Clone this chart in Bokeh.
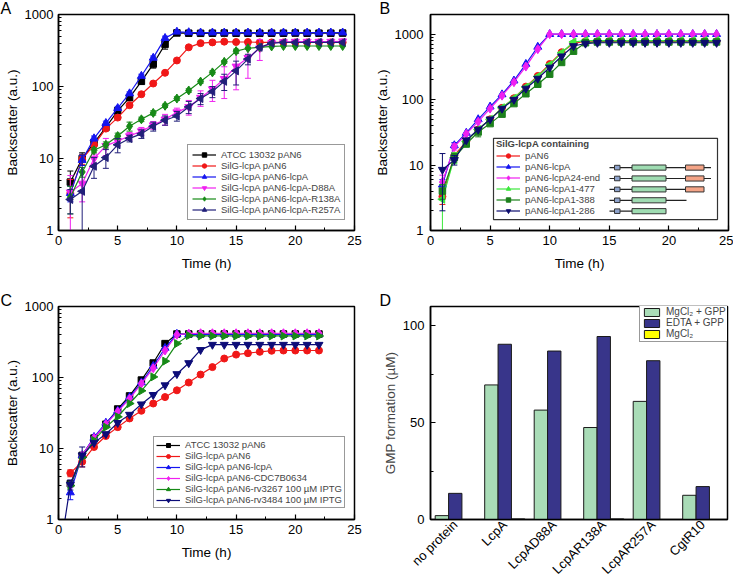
import math
from bokeh.plotting import figure
from bokeh.models import (ColumnDataSource, Legend, LegendItem, Title, SingleIntervalTicker,
                          LogTicker, FixedTicker, Range1d, FactorRange, BasicTickFormatter)
from bokeh.transform import dodge
from bokeh.layouts import row, column
from bokeh.embed import file_html
from bokeh.resources import INLINE

FONT = "Liberation Sans"

# ---------------- Panel A data ----------------
a_time = [1, 2, 3, 4, 5, 6, 7, 8, 9, 10, 11, 12, 13, 14, 15, 16, 17, 18, 19, 20, 21, 22, 23, 24]
a_labels = ["ATCC 13032 pAN6", "SilG-lcpA pAN6", "SilG-lcpA pAN6-lcpA",
            "SilG-lcpA pAN6-lcpA-D88A", "SilG-lcpA pAN6-lcpA-R138A", "SilG-lcpA pAN6-lcpA-R257A"]
a_atcc = [4.7, 10, 16.5, 27, 46, 70, 118, 205, 385, 555, 550, 548, 550, 552, 550, 550, 548, 550, 550, 552, 550, 550, 550, 552]
a_pan6 = [3.3, 9.8, 15.5, 26, 37, 55, 78, 110, 155, 230, 350, 400, 410, 420, 415, 415, 410, 410, 410, 410, 410, 410, 410, 410]
a_lcpa = [3.3, 9.5, 19, 31, 50, 80, 140, 250, 470, 575, 565, 560, 560, 560, 560, 560, 560, 560, 560, 560, 560, 560, 560, 560]
a_d88a = [3.4, 4.5, 10, 15, 17.5, 20.5, 24, 29, 35, 44, 52, 70, 92, 128, 190, 250, 340, 400, 415, 420, 420, 420, 420, 425]
a_r138a = [2.9, 6.5, 13, 15.5, 20.5, 28, 35, 43, 54, 68, 88, 117, 157, 220, 310, 340, 350, 360, 365, 365, 365, 365, 365, 365]
a_r257a = [2.7, 3.5, 7.8, 10.3, 15.5, 19, 22, 28, 34, 39, 52, 68, 85, 118, 165, 240, 350, 400, 410, 410, 410, 410, 410, 410]
a_atcc_err = [2.0, 2.0, 1.5, 2, 3, 5, 10, 25, 55, 0, 0, 0, 0, 0, 0, 0, 0, 0, 0, 0, 0, 0, 0, 0]
a_pan6_err = [1.8, 1.5, 1, 1, 1, 3, 3, 5, 5, 5, 10, 10, 10, 10, 0, 0, 0, 0, 0, 0, 0, 0, 0, 0]
a_lcpa_err = [0.8, 1.5, 1.5, 2, 3, 4, 8, 15, 30, 20, 0, 0, 0, 0, 0, 0, 0, 0, 0, 0, 0, 0, 0, 0]
a_d88a_err = [2.4, 2.0, 1.5, 4.0, 2.5, 2.5, 3.0, 3.5, 6.0, 6.0, 12, 17, 30, 60, 100, 120, 110, 30, 0, 0, 0, 0, 0, 0]
a_r138a_err = [1.2, 1.0, 1.0, 1.5, 2.0, 4.0, 2.5, 3, 3, 4, 5, 6, 8, 10, 20, 10, 0, 0, 0, 0, 0, 0, 0, 0]
a_r257a_err = [1.0, 8.0, 2.5, 3.0, 3.5, 2.0, 3.0, 4.0, 5.0, 6.0, 10.0, 12.0, 15.0, 30.0, 60.0, 40.0, 20.0, 0, 0, 0, 0, 0, 0, 0]

# ---------------- Panel B data ----------------
b_time = [1, 2, 3, 4, 5, 6, 7, 8, 9, 10, 11, 12, 13, 14, 15, 16, 17, 18, 19, 20, 21, 22, 23, 24]
b_title = "SilG-lcpA containing"
b_labels = ["pAN6", "pAN6-lcpA", "pAN6-lcpA24-end", "pAN6-lcpA1-477", "pAN6-lcpA1-388", "pAN6-lcpA1-286"]
b_pan6 = [3.3, 14, 23, 35, 50, 75, 105, 158, 230, 350, 530, 720, 780, 780, 785, 780, 780, 780, 785, 780, 780, 780, 785, 780]
b_lcpa = [5.0, 20, 31, 50, 78, 120, 195, 350, 640, 1000, 1000, 1000, 1000, 1000, 1000, 1000, 1000, 1000, 1000, 1000, 1000, 1000, 1000, 1000]
b_24end = [5.5, 19, 30, 46, 73, 115, 185, 320, 590, 1000, 1000, 1000, 1000, 1000, 1000, 1000, 1000, 1000, 1000, 1000, 1000, 1000, 1000, 1000]
b_1_477 = [3.0, 13, 23, 35, 50, 75, 105, 155, 225, 340, 520, 760, 800, 800, 800, 800, 800, 800, 800, 800, 800, 800, 800, 800]
b_1_388 = [4.0, 13, 21, 32, 43, 60, 87, 123, 172, 245, 370, 550, 740, 760, 760, 760, 760, 760, 760, 760, 760, 760, 760, 760]
b_1_286 = [8.5, 12, 24, 35, 50, 73, 100, 148, 210, 310, 460, 660, 720, 740, 740, 740, 740, 740, 740, 740, 740, 740, 740, 740]
b_pan6_err = [0.8, 1.5, 0, 0, 0, 0, 0, 0, 0, 0, 0, 0, 0, 0, 0, 0, 0, 0, 0, 0, 0, 0, 0, 0]
b_lcpa_err = [1.0, 2.0, 0, 0, 0, 0, 0, 0, 0, 0, 0, 0, 0, 0, 0, 0, 0, 0, 0, 0, 0, 0, 0, 0]
b_24end_err = [1.5, 2.0, 0, 0, 0, 0, 0, 0, 0, 0, 0, 0, 0, 0, 0, 0, 0, 0, 0, 0, 0, 0, 0, 0]
b_1_477_err = [2.0, 2.5, 0, 0, 0, 0, 0, 0, 0, 0, 0, 0, 0, 0, 0, 0, 0, 0, 0, 0, 0, 0, 0, 0]
b_1_388_err = [1.0, 2.0, 2.0, 5.0, 0, 0, 0, 0, 0, 0, 0, 0, 0, 0, 0, 0, 0, 0, 0, 0, 0, 0, 0, 0]
b_1_286_err = [6.5, 2.0, 0, 0, 0, 0, 0, 0, 0, 0, 0, 0, 0, 0, 0, 0, 0, 0, 0, 0, 0, 0, 0, 0]

# ---------------- Panel C data ----------------
c_time = [1, 2, 3, 4, 5, 6, 7, 8, 9, 10, 11, 12, 13, 14, 15, 16, 17, 18, 19, 20, 21, 22]
c_time_rv3484 = [0, 1, 2, 3, 4, 5, 6, 7, 8, 9, 10, 11, 12, 13, 14, 15, 16, 17, 18, 19, 20, 21, 22]
c_labels = ["ATCC 13032 pAN6", "SilG-lcpA pAN6", "SilG-lcpA pAN6-lcpA", "SilG-lcpA pAN6-CDC7B0634",
            "SilG-lcpA pAN6-rv3267 100 µM IPTG", "SilG-lcpA pAN6-rv3484 100 µM IPTG"]
c_atcc = [3.2, 8, 14, 22, 36, 55, 92, 160, 300, 410, 410, 410, 410, 410, 410, 410, 410, 410, 410, 410, 410, 410]
c_pan6 = [4.5, 6.5, 10.5, 15, 20, 26.5, 34, 43, 53, 66, 85, 110, 140, 185, 210, 220, 230, 238, 240, 240, 240, 240]
c_lcpa = [2.4, 8, 14.5, 23, 34, 53, 85, 145, 260, 410, 405, 405, 405, 405, 405, 405, 405, 405, 405, 405, 405, 405]
c_cdc = [3.0, 8, 14, 22, 33, 50, 82, 135, 240, 400, 415, 420, 420, 420, 420, 420, 420, 420, 420, 420, 420, 420]
c_rv3267 = [3.0, 7.5, 13, 20, 28, 43, 65, 102, 170, 300, 390, 385, 385, 385, 385, 385, 385, 385, 385, 385, 385, 385]
c_rv3484 = [0.25, 3.1, 8, 12, 16, 23, 30, 42, 57, 78, 112, 160, 245, 290, 290, 290, 290, 290, 290, 290, 290, 290, 290]
c_lcpa_err = [0.5, 0, 0, 0, 0, 0, 0, 0, 0, 0, 0, 0, 0, 0, 0, 0, 0, 0, 0, 0, 0, 0]
c_pan6_err = [0.5, 1.0, 0, 0, 0, 0, 0, 0, 0, 0, 0, 0, 0, 0, 0, 0, 0, 0, 0, 0, 0, 0]
c_rv3484_err = [0, 0.5, 2.5, 0, 0, 0, 0, 0, 0, 0, 0, 0, 0, 0, 0, 0, 0, 0, 0, 0, 0, 0, 0]

# ---------------- Panel D data ----------------
d_categories = ["no protein", "LcpA", "LcpAD88A", "LcpAR138A", "LcpAR257A", "CgtR10"]
d_series = ["MgCl₂ + GPP", "EDTA + GPP", "MgCl₂"]
d_mgcl_gpp = [2.0, 69.5, 56.5, 47.5, 61.0, 12.5]
d_edta_gpp = [13.5, 90.5, 87.0, 94.5, 82.0, 17.0]
d_mgcl = [0.0, 0.3, 0.0, 0.3, 0.0, 0.0]


def add_letter(p, text, frame_left):
    p.add_layout(Title(text=text, align="left", offset=-frame_left, standoff=-5,
                       text_font=FONT, text_font_size="16px", text_font_style="normal",
                       text_color="black"), "above")


def growth_fig(width, height, borders, y_end, y_standoff):
    left, right, top, bottom = borders
    p = figure(width=width, height=height, x_range=Range1d(0, 25), y_range=Range1d(1, y_end),
               y_axis_type="log", output_backend="svg", toolbar_location=None,
               min_border_left=left, min_border_right=right,
               min_border_top=top, min_border_bottom=bottom)
    p.xgrid.visible = False
    p.ygrid.visible = False
    p.outline_line_color = "black"
    p.outline_line_width = 1.5
    p.outline_line_alpha = 1
    p.xaxis.ticker = SingleIntervalTicker(interval=5, num_minor_ticks=2)
    p.yaxis.ticker = LogTicker(num_minor_ticks=10)
    p.yaxis.formatter = BasicTickFormatter(use_scientific=False)
    for ax in (p.xaxis[0], p.yaxis[0]):
        ax.axis_line_width = 1.5
        ax.major_tick_in = 5
        ax.major_tick_out = 0
        ax.minor_tick_in = 3
        ax.minor_tick_out = 0
        ax.major_tick_line_width = 1.2
        ax.minor_tick_line_width = 1
        ax.major_label_text_font = FONT
        ax.major_label_text_font_size = "13px"
        ax.major_label_text_color = "black"
        ax.axis_label_text_font = FONT
        ax.axis_label_text_font_size = "13.5px"
        ax.axis_label_text_font_style = "normal"
        ax.axis_label_text_color = "black"
    p.xaxis.axis_label = "Time (h)"
    p.yaxis.axis_label = "Backscatter (a.u.)"
    p.xaxis.major_label_standoff = 5
    p.xaxis.axis_label_standoff = 8
    p.yaxis.major_label_standoff = y_standoff
    p.yaxis.axis_label_standoff = 2
    return p


def add_series(p, x, y, err, color, marker, size, angle=0.0):
    src = ColumnDataSource(dict(x=x, y=y))
    if err:
        ex, lo, hi = [], [], []
        for xi, yi, ei in zip(x, y, err):
            if ei > 0:
                ex.append(xi)
                lo.append(max(yi - ei, 0.3))
                hi.append(yi + ei)
        if ex:
            esrc = ColumnDataSource(dict(x=ex, lo=lo, hi=hi))
            p.segment(x0="x", y0="lo", x1="x", y1="hi", source=esrc, line_color=color, line_width=1)
            p.scatter("x", "hi", source=esrc, marker="dash", size=6, line_color=color, line_width=1)
            p.scatter("x", "lo", source=esrc, marker="dash", size=6, line_color=color, line_width=1)
    ln = p.line("x", "y", source=src, line_color=color, line_width=1.2)
    sc = p.scatter("x", "y", source=src, marker=marker, size=size, fill_color=color,
                   line_color=color, angle=angle)
    return ln, sc


def style_legend(leg, font_size, row_h, padding, glyph_w=24, glyph_h=None):
    leg.label_text_font = FONT
    leg.label_text_font_size = font_size
    leg.label_height = row_h
    leg.glyph_height = glyph_h if glyph_h else row_h
    leg.glyph_width = glyph_w
    leg.spacing = 0
    leg.padding = padding
    leg.margin = 0
    leg.label_standoff = 5
    leg.border_line_color = "#333333"
    leg.border_line_width = 1.2
    leg.background_fill_color = "white"
    leg.background_fill_alpha = 1


# ---------------- Panel A ----------------
pA = growth_fig(366, 292, (58, 12, 0, 62), 1000, 5)
add_letter(pA, "A", 58)
a_specs = [
    (a_atcc, a_atcc_err, "#000000", "square", 6.5, 0.0),
    (a_pan6, a_pan6_err, "#f01818", "circle", 7, 0.0),
    (a_lcpa, a_lcpa_err, "#1515f0", "triangle", 8, 0.0),
    (a_d88a, a_d88a_err, "#f020f0", "inverted_triangle", 8, 0.0),
    (a_r138a, a_r138a_err, "#178a17", "diamond", 9, 0.0),
    (a_r257a, a_r257a_err, "#22207a", "triangle", 8, math.pi / 2),
]
a_items = []
for lab, (vals, err, col, mk, sz, ang) in zip(a_labels, a_specs):
    ln, sc = add_series(pA, a_time, vals, err, col, mk, sz, ang)
    a_items.append(LegendItem(label=lab, renderers=[ln, sc]))
legA = Legend(items=a_items, location=(129, 10))
style_legend(legA, "9.5px", 11, 4)
pA.add_layout(legA)

# ---------------- Panel B ----------------
B_FW, B_FH, B_YEND = 298, 218, 2000
pB = growth_fig(367, 292, (64, 5, 0, 61), B_YEND, 7)
add_letter(pB, "B", 51)


def bx(px):
    return 25.0 * px / B_FW


def by(py):
    return 10 ** (math.log10(B_YEND) * py / B_FH)


# legend box (frame pixels)
LB_LEFT, LB_BOTTOM, LB_RIGHT, LB_TOP = 63, 11, 287, 93
pB.quad(left=[bx(LB_LEFT)], right=[bx(LB_RIGHT)], bottom=[by(LB_BOTTOM)], top=[by(LB_TOP)],
        fill_color="white", line_color="#333333", line_width=1.2)

b_specs = [
    (b_pan6, b_pan6_err, "#f01818", "circle", 7, 0.0),
    (b_lcpa, b_lcpa_err, "#1515f0", "triangle", 8, 0.0),
    (b_24end, b_24end_err, "#f020f0", "diamond", 9, 0.0),
    (b_1_477, b_1_477_err, "#3ce83c", "triangle", 8, math.pi / 2),
    (b_1_388, b_1_388_err, "#1c801c", "square", 6.5, 0.0),
    (b_1_286, b_1_286_err, "#0c0c6e", "inverted_triangle", 8, 0.0),
]
b_items = []
for lab, (vals, err, col, mk, sz, ang) in zip(b_labels, b_specs):
    ln, sc = add_series(pB, b_time, vals, err, col, mk, sz, ang)
    b_items.append(LegendItem(label=lab, renderers=[ln, sc]))
legB = Legend(items=b_items, location=(LB_LEFT, LB_BOTTOM))
style_legend(legB, "9.5px", 11, 3)
legB.title = b_title
legB.title_text_font = FONT
legB.title_text_font_size = "9.5px"
legB.title_text_font_style = "bold"
legB.title_standoff = 1
legB.border_line_alpha = 0
legB.background_fill_alpha = 0
pB.add_layout(legB)

# domain diagrams next to legend rows (frame pixels)
ROW_H, ROW_PAD = 11, 3
DG_LINE_START, DG_SQ, DG_GREEN, DG_SALMON = 179, (184, 189.5), (201.5, 235.5), (255, 273.5)
diagram_rows = [  # (legend row index, line end, has C-terminal domain)
    (1, 280.5, True),
    (2, 280.5, True),
    (3, 273.5, True),
    (4, 256, False),
    (5, 235.5, False),
]
seg_x0, seg_x1, seg_y = [], [], []
boxes = {"sq": [], "green": [], "salmon": []}
for k, line_end, salmon in diagram_rows:
    yc = LB_BOTTOM + ROW_PAD + ROW_H / 2 + (5 - k) * ROW_H
    seg_x0.append(bx(DG_LINE_START))
    seg_x1.append(bx(line_end))
    seg_y.append(by(yc))
    boxes["sq"].append((bx(DG_SQ[0]), bx(DG_SQ[1]), by(yc - 2.3), by(yc + 2.3)))
    boxes["green"].append((bx(DG_GREEN[0]), bx(DG_GREEN[1]), by(yc - 2.6), by(yc + 2.6)))
    if salmon:
        boxes["salmon"].append((bx(DG_SALMON[0]), bx(DG_SALMON[1]), by(yc - 2.6), by(yc + 2.6)))
pB.segment(x0=seg_x0, y0=seg_y, x1=seg_x1, y1=seg_y, line_color="#222222", line_width=1.2)
for key, fill in (("sq", "#8ea3cc"), ("green", "#9fdcb2"), ("salmon", "#f4a487")):
    bb = boxes[key]
    pB.quad(left=[b[0] for b in bb], right=[b[1] for b in bb], bottom=[b[2] for b in bb],
            top=[b[3] for b in bb], fill_color=fill, line_color="#333333", line_width=1)

# ---------------- Panel C ----------------
pC = growth_fig(366, 293, (58, 12, 0, 63), 1000, 5)
add_letter(pC, "C", 58)
c_specs = [
    (c_time, c_atcc, None, "#000000", "square", 6.5, 0.0),
    (c_time, c_pan6, c_pan6_err, "#f01818", "circle", 7, 0.0),
    (c_time, c_lcpa, c_lcpa_err, "#1515f0", "triangle", 8, 0.0),
    (c_time, c_cdc, None, "#f020f0", "diamond", 9, 0.0),
    (c_time, c_rv3267, None, "#178a17", "triangle", 8, -math.pi / 2),
    (c_time_rv3484, c_rv3484, c_rv3484_err, "#0c0c78", "inverted_triangle", 8, 0.0),
]
c_items = []
for lab, (tx, vals, err, col, mk, sz, ang) in zip(c_labels, c_specs):
    ln, sc = add_series(pC, tx, vals, err, col, mk, sz, ang)
    c_items.append(LegendItem(label=lab, renderers=[ln, sc]))
legC = Legend(items=c_items, location=(95, 11))
style_legend(legC, "9.5px", 10, 2)
pC.add_layout(legC)

# ---------------- Panel D ----------------
pD = figure(width=367, height=293, x_range=FactorRange(*d_categories), y_range=Range1d(0, 110),
            output_backend="svg", toolbar_location=None,
            min_border_left=64, min_border_right=6, min_border_top=0, min_border_bottom=64)
add_letter(pD, "D", 51)
pD.xgrid.visible = False
pD.ygrid.visible = False
pD.outline_line_color = "black"
pD.outline_line_width = 1.5
d_src = ColumnDataSource(dict(cat=d_categories, mgcl_gpp=d_mgcl_gpp, edta_gpp=d_edta_gpp, mgcl=d_mgcl))
BW = 0.27
d_colors = ["#a9dcb7", "#38358a", "#ffff00"]
d_fields = ["mgcl_gpp", "edta_gpp", "mgcl"]
d_items = []
for off, fld, col, lab in zip((-BW, 0.0, BW), d_fields, d_colors, d_series):
    r = pD.vbar(x=dodge("cat", off, range=pD.x_range), top=fld, width=BW, source=d_src,
                fill_color=col, line_color="#1a1a1a", line_width=1)
    d_items.append(LegendItem(label=lab, renderers=[r]))
legD = Legend(items=d_items, location=(209, 177))
style_legend(legD, "10px", 11, 2, glyph_w=19, glyph_h=10)
pD.add_layout(legD)

pD.yaxis.ticker = FixedTicker(ticks=[0, 50, 100], minor_ticks=[25, 75])
pD.yaxis.axis_label = "GMP formation (µM)"
for ax in (pD.xaxis[0], pD.yaxis[0]):
    ax.axis_line_width = 1.5
    ax.major_label_text_font = FONT
    ax.major_label_text_color = "black"
    ax.axis_label_text_font = FONT
    ax.axis_label_text_font_size = "13.5px"
    ax.axis_label_text_font_style = "normal"
pD.yaxis.major_tick_in = 5
pD.yaxis.major_tick_out = 0
pD.yaxis.minor_tick_in = 3
pD.yaxis.minor_tick_out = 0
pD.yaxis.major_label_text_font_size = "13px"
pD.yaxis.major_label_standoff = 6
pD.yaxis.axis_label_standoff = 2
pD.xaxis.major_tick_in = 0
pD.xaxis.major_tick_out = 0
pD.xaxis.major_label_text_font_size = "13px"
pD.xaxis.major_label_orientation = math.pi / 4
pD.xaxis.major_label_standoff = 3

layout = column(row(pA, pB), row(pC, pD))
open("out.html", "w").write(file_html(layout, INLINE))
